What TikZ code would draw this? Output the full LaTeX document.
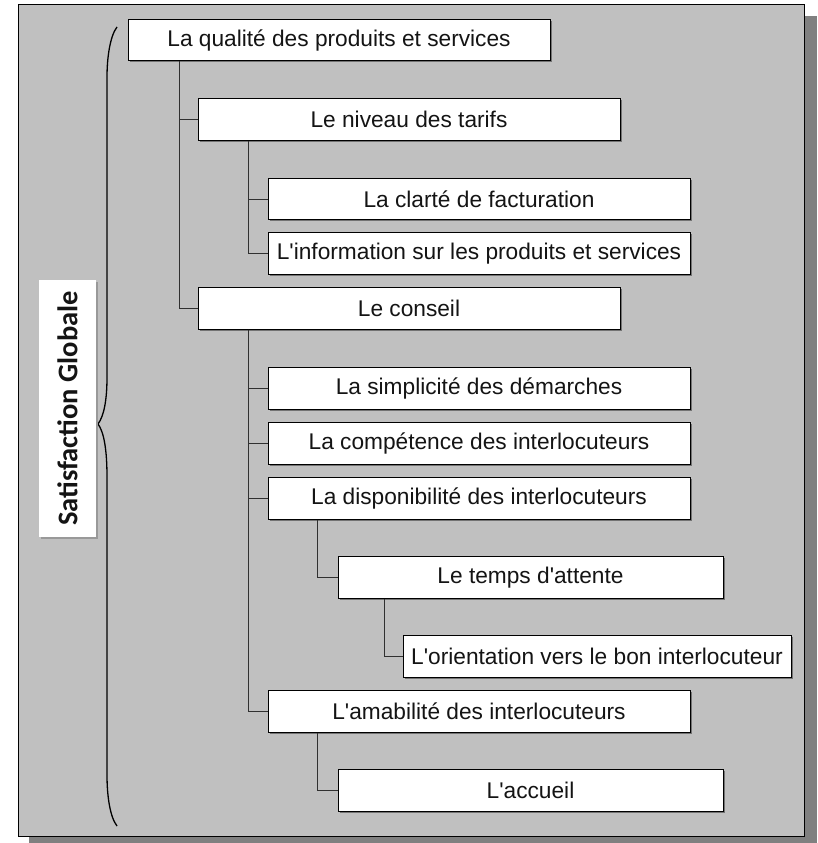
\documentclass[tikz,border=0pt]{standalone}
\usepackage{fontspec}
\setmainfont{Liberation Sans}[Ligatures=TeXOff]
\newfontfamily\labelfont{Carlito}
\usetikzlibrary{shadows}
\definecolor{panel}{HTML}{C0C0C0}
\definecolor{panelshadow}{HTML}{808080}
\definecolor{linkgray}{HTML}{303030}
\begin{document}
\begin{tikzpicture}[x=1pt,y=-1pt,
  item/.style={draw=black, line width=0.9pt, fill=white, rectangle,
    minimum height=41.5pt, inner sep=0pt, text=black!92,
    font=\fontsize{22.7}{27}\selectfont,
    drop shadow={shadow xshift=1.6pt, shadow yshift=-1.6pt, fill=black!55, opacity=1}},
  wide/.style={item, minimum width=422pt},
  narrow/.style={item, minimum width=385pt},
  link/.style={draw=linkgray, line width=0.9pt}]
\useasboundingbox (0,0) rectangle (817,843);
% panel with its shadow
\fill[panelshadow] (29,16) rectangle (817,843);
\filldraw[fill=panel, draw=black, line width=1pt] (18,5) rectangle (804,836);

% tree items
\node[wide]   (q)   at (339,40)    {La qualité des produits et services};
\node[wide]   (tar) at (409,119.5) {Le niveau des tarifs};
\node[wide]   (fac) at (479,199)   {La clarté de facturation};
\node[wide]   (inf) at (479,253.5) {L'information sur les produits et services};
\node[wide]   (con) at (409,308.5) {Le conseil};
\node[wide]   (sim) at (479,388.5) {La simplicité des démarches};
\node[wide]   (com) at (479,443.5) {La compétence des interlocuteurs};
\node[wide]   (dis) at (479,498.5) {La disponibilité des interlocuteurs};
\node[narrow] (tps) at (530.5,577.5) {Le temps d'attente};
\node[narrow, minimum width=388pt] (ori) at (597,656.5) {L'orientation vers le bon interlocuteur};
\node[wide]   (ama) at (479,711.5) {L'amabilité des interlocuteurs};
\node[narrow] (acc) at (530.5,790.5) {L'accueil};

% tree connectors
\draw[link] ([xshift=52pt]q.south west) |- (tar.west);
\draw[link] ([xshift=52pt]q.south west) |- (con.west);
\draw[link] ([xshift=51pt]tar.south west) |- (fac.west);
\draw[link] ([xshift=51pt]tar.south west) |- (inf.west);
\draw[link] ([xshift=51pt]con.south west) |- (sim.west);
\draw[link] ([xshift=51pt]con.south west) |- (com.west);
\draw[link] ([xshift=51pt]con.south west) |- (dis.west);
\draw[link] ([xshift=51pt]con.south west) |- (ama.west);
\draw[link] ([xshift=50pt]dis.south west) |- (tps.west);
\draw[link] ([xshift=47pt]tps.south west) |- (ori.west);
\draw[link] ([xshift=50pt]ama.south west) |- (acc.west);

% curly brace
\draw[line width=1.3pt] (117,27) .. controls (110,36) and (107,58) .. (107,77)
  -- (107,377) .. controls (107,400) and (104,416) .. (98,424)
  .. controls (104,432) and (107,450) .. (107,477)
  -- (107,775) .. controls (107,796) and (110,817) .. (117,826);

% overall label
\node[draw=none, fill=white, minimum width=57pt, minimum height=257pt, inner sep=0pt,
  drop shadow={shadow xshift=1.6pt, shadow yshift=-1.6pt, fill=black!40, opacity=1}]
  (lab) at (67.5,408.5) {};
\node[rotate=90, font=\labelfont\bfseries\fontsize{28.5}{32}\selectfont, text=black!92]
  (labtxt) at (lab.center) {Satisfaction Globale};
\end{tikzpicture}
\end{document}
